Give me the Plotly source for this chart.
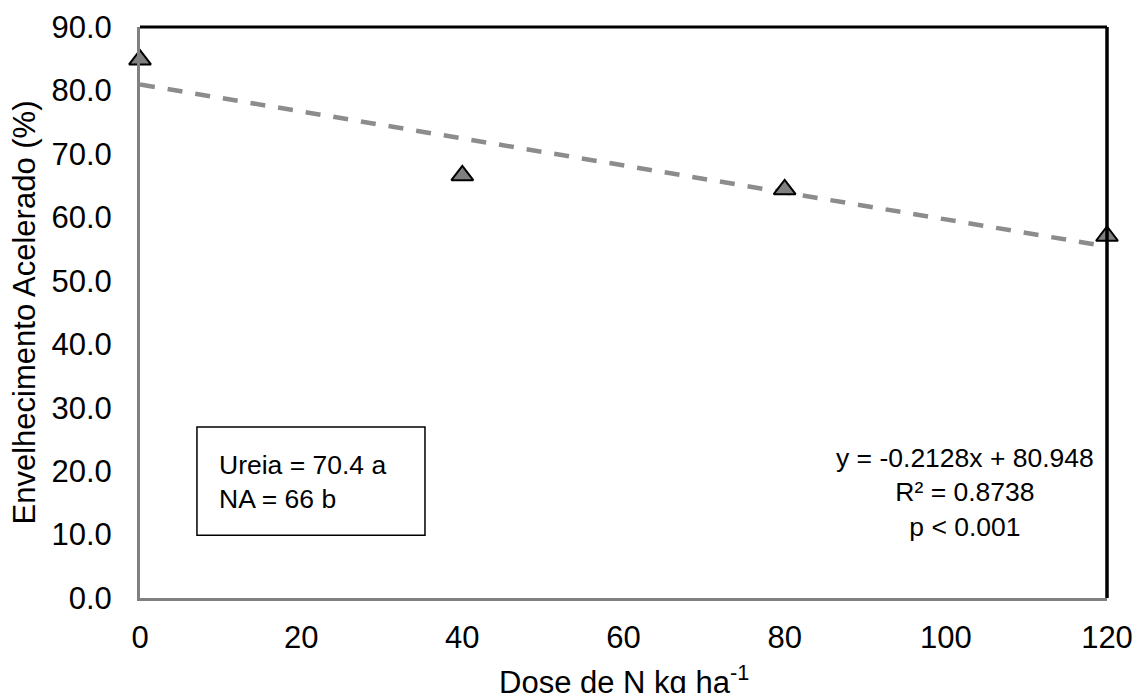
import plotly.graph_objects as go

# Data
dose = [0, 40, 80, 120]
envelhecimento = [84.85, 66.6, 64.4, 57.06]
slope = -0.2128
intercept = 80.948
x_ticks = [0, 20, 40, 60, 80, 100, 120]
y_ticks = [0, 10, 20, 30, 40, 50, 60, 70, 80, 90]
y_tick_labels = [f"{v:.1f}" for v in y_ticks]

trend_x = [dose[0], dose[-1]]
trend_y = [intercept + slope * v for v in trend_x]

FONT = "Liberation Sans, Arial, sans-serif"

fig = go.Figure()
fig.add_trace(go.Scatter(
    x=trend_x, y=trend_y, mode="lines",
    line=dict(color="#8c8c8c", width=4.5, dash="15px,13px"),
    hoverinfo="skip", showlegend=False, cliponaxis=False,
))
fig.add_trace(go.Scatter(
    x=dose, y=envelhecimento, mode="markers",
    marker=dict(symbol="triangle-up", size=19, color="#808080",
                line=dict(color="black", width=2)),
    showlegend=False, cliponaxis=False,
))

fig.update_layout(
    width=1136, height=693,
    margin=dict(l=140, r=29, t=27, b=95),
    plot_bgcolor="white", paper_bgcolor="white",
    font=dict(family=FONT, size=31, color="black"),
    xaxis=dict(range=[0, 120], tickvals=x_ticks, showgrid=False, zeroline=False,
               showline=True, linecolor="#808080", linewidth=3, ticks="",
               ticklabelstandoff=10, tickfont=dict(size=31),
               automargin=False, ticklabeloverflow="allow"),
    yaxis=dict(range=[0, 90], tickvals=y_ticks, ticktext=y_tick_labels,
               showgrid=False, zeroline=False,
               showline=True, linecolor="#808080", linewidth=3, ticks="",
               ticklabelstandoff=19, tickfont=dict(size=31),
               automargin=False, ticklabeloverflow="allow"),
    shapes=[
        dict(type="line", xref="paper", yref="paper", x0=0, x1=1, y0=1, y1=1,
             line=dict(color="black", width=3)),
        dict(type="line", xref="paper", yref="paper", x0=1, x1=1, y0=0, y1=1,
             line=dict(color="black", width=3.5)),
        dict(type="rect", xref="paper", yref="paper", x0=0.0589, x1=0.2947,
             y0=0.110, y1=0.2995, line=dict(color="black", width=1.5)),
    ],
    annotations=[
        dict(text="Envelhecimento Acelerado (%)", xref="paper", yref="paper",
             x=-0.119, y=0.5, textangle=-90, showarrow=False,
             font=dict(size=31), xanchor="center", yanchor="middle"),
        dict(text="Dose de N kg ha<sup>-1</sup>", xref="paper", yref="paper",
             x=0.5, y=-0.143, showarrow=False, font=dict(size=31),
             xanchor="center", yanchor="middle"),
        dict(text="Ureia = 70.4 a<br>NA = 66 b", xref="paper", yref="paper",
             x=0.0796, y=0.203, showarrow=False, align="left",
             xanchor="left", yanchor="middle", font=dict(size=26.5)),
        dict(text="y = -0.2128x + 80.948<br>R² = 0.8738<br>p < 0.001",
             xref="paper", yref="paper", x=0.853, y=0.184, showarrow=False,
             align="center", xanchor="center", yanchor="middle",
             font=dict(size=26.5)),
    ],
)

fig.write_html(
    "out.html",
    config={"displayModeBar": False},
    post_script="document.body.style.margin='0';"
                "document.documentElement.style.overflow='hidden';",
)
